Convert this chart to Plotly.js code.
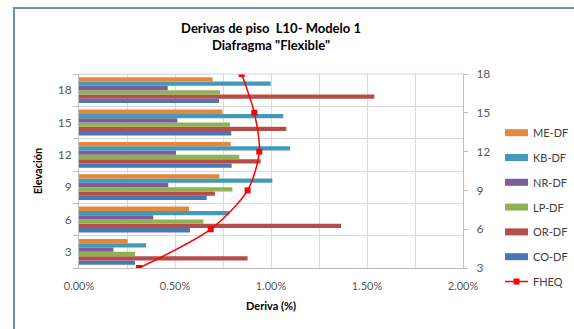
<!DOCTYPE html>
<html>
<head>
<meta charset="utf-8">
<script src="https://cdn.plot.ly/plotly-3.0.1.min.js"></script>
<style>
  html, body { margin: 0; padding: 0; background: #ffffff; }
  #wrap { position: relative; width: 574px; height: 329px; overflow: hidden; }
  #chart { position: absolute; left: 0; top: 0; width: 574px; height: 329px; }
  #frame { position: absolute; left: 13px; top: 7px; width: 700px; height: 400px;
           border-left: 2px solid #6a93c9; border-top: 2px solid #6a93c9; pointer-events: none; }
</style>
</head>
<body>
<div id="wrap">
  <div id="chart"></div>
  <div id="frame"></div>
</div>
<script>
// Storey levels (category axis) and drift ratios per model
const levels = ["3", "6", "9", "12", "15", "18"];

const meDF = [0.00253, 0.00573, 0.00731, 0.00790, 0.00747, 0.00696];
const kbDF = [0.00349, 0.00783, 0.01007, 0.01099, 0.01064, 0.00998];
const nrDF = [0.00179, 0.00387, 0.00465, 0.00505, 0.00512, 0.00462];
const lpDF = [0.00292, 0.00648, 0.00799, 0.00835, 0.00786, 0.00734];
const orDF = [0.00878, 0.01365, 0.00708, 0.00946, 0.01080, 0.01538];
const coDF = [0.00292, 0.00578, 0.00665, 0.00795, 0.00793, 0.00729];

// Equivalent static force drifts, plotted against elevation
const fheqElev = [3, 6, 9, 12, 15, 18];
const fheqDrift = [0.003125, 0.00686, 0.00878, 0.00939, 0.00913, 0.00847];

const seriesNames = ["ME-DF", "KB-DF", "NR-DF", "LP-DF", "OR-DF", "CO-DF"];
const seriesValues = [meDF, kbDF, nrDF, lpDF, orDF, coDF];
const seriesColors = ["#e4883c", "#4399b6", "#7a5f9d", "#91b152", "#b54d4a", "#4a77b1"];
const fheqName = "FHEQ";
const fheqColor = "#ff0000";

const fontFam = "Lato, 'Open Sans', sans-serif";
const tickColor = "#595959";
const gridColor = "#d9d9d9";

// Bars: first trace sits lowest inside each group, so add them bottom-up
const traces = [];
for (let i = seriesNames.length - 1; i >= 0; i--) {
  traces.push({
    type: "bar",
    orientation: "h",
    name: seriesNames[i],
    y: levels,
    x: seriesValues[i],
    marker: { color: seriesColors[i] },
    showlegend: false,
    hoverinfo: "x+name"
  });
}
traces.push({
  type: "scatter",
  mode: "lines+markers",
  name: fheqName,
  x: fheqDrift,
  y: fheqElev,
  yaxis: "y2",
  line: { color: fheqColor, width: 1.5, shape: "spline", smoothing: 0.8 },
  marker: { color: fheqColor, symbol: "square", size: 6 },
  showlegend: false
});

// Plot area in pixels, used to place the hand-built legend
const W = 574, H = 329;
const mL = 79, mR = 111, mT = 74, mB = 61;
const pw = W - mL - mR, ph = H - mT - mB;
const px = x => (x - mL) / pw;
const py = y => (H - mB - y) / ph;

const shapes = [
  { type: "line", xref: "paper", yref: "paper", x0: 0, x1: 1, y0: 1, y1: 1,
    line: { color: "#c3d4ea", width: 1 } }
];
const annotations = [];
const legendNames = seriesNames.concat([fheqName]);
legendNames.forEach((nm, i) => {
  const cy = 132.7 + i * 24.8;
  if (i < seriesNames.length) {
    shapes.push({ type: "rect", xref: "paper", yref: "paper",
      x0: px(505), x1: px(528), y0: py(cy + 3.5), y1: py(cy - 3.5),
      fillcolor: seriesColors[i], line: { width: 0 } });
  } else {
    shapes.push({ type: "line", xref: "paper", yref: "paper",
      x0: px(505), x1: px(528), y0: py(cy), y1: py(cy),
      line: { color: fheqColor, width: 1.5 } });
    shapes.push({ type: "rect", xref: "paper", yref: "paper",
      x0: px(513.5), x1: px(519.5), y0: py(cy + 3), y1: py(cy - 3),
      fillcolor: fheqColor, line: { width: 0 } });
  }
  annotations.push({ xref: "paper", yref: "paper", x: px(531), y: py(cy),
    xanchor: "left", yanchor: "middle", showarrow: false, text: nm,
    font: { family: fontFam, size: 11, color: "#404040" } });
});

const layout = {
  width: W, height: H,
  margin: { l: mL, r: mR, t: mT, b: mB, pad: 0 },
  paper_bgcolor: "#ffffff",
  plot_bgcolor: "#ffffff",
  font: { family: fontFam, color: tickColor, size: 11 },
  title: {
    text: "Derivas de piso  L10- Modelo 1<br>Diafragma \"Flexible\"",
    font: { family: fontFam, size: 13, color: "#000000", weight: "bold" },
    xref: "paper", x: 0.5, xanchor: "center",
    yref: "container", y: 1 - 33 / H, yanchor: "top"
  },
  barmode: "group",
  bargap: 0.2,
  bargroupgap: 0,
  xaxis: {
    range: [0, 0.02],
    dtick: 0.005,
    tickformat: ".2%",
    showgrid: true, gridcolor: gridColor, gridwidth: 1,
    minor: { dtick: 0.0025, showgrid: true, gridcolor: gridColor, gridwidth: 1 },
    zeroline: false,
    showline: true, linecolor: "#bfbfbf", linewidth: 1,
    ticks: "", ticklabelstandoff: 8,
    tickfont: { family: fontFam, size: 11, color: tickColor },
    title: { text: "Deriva (%)", standoff: 11,
      font: { family: fontFam, size: 11, color: "#000000", weight: "bold" } }
  },
  yaxis: {
    type: "category",
    categoryorder: "array", categoryarray: levels,
    tickson: "boundaries",
    ticks: "outside", ticklen: 5, tickcolor: "#bfbfbf",
    showgrid: true, gridcolor: gridColor,
    showline: true, linecolor: "#bfbfbf",
    tickfont: { family: fontFam, size: 12, color: tickColor },
    ticklabelstandoff: 4,
    title: { text: "Elevación", standoff: 12,
      font: { family: fontFam, size: 11, color: "#000000", weight: "bold" } }
  },
  yaxis2: {
    overlaying: "y", side: "right",
    range: [3, 18], dtick: 3, tick0: 3,
    showgrid: false, zeroline: false,
    showline: true, linecolor: "#bfbfbf",
    ticks: "outside", ticklen: 4, tickcolor: "#bfbfbf",
    tickfont: { family: fontFam, size: 12, color: tickColor },
    ticklabelstandoff: 6
  },
  shapes: shapes,
  annotations: annotations,
  showlegend: false
};

Plotly.newPlot("chart", traces, layout, { displayModeBar: false, staticPlot: true });
</script>
</body>
</html>
